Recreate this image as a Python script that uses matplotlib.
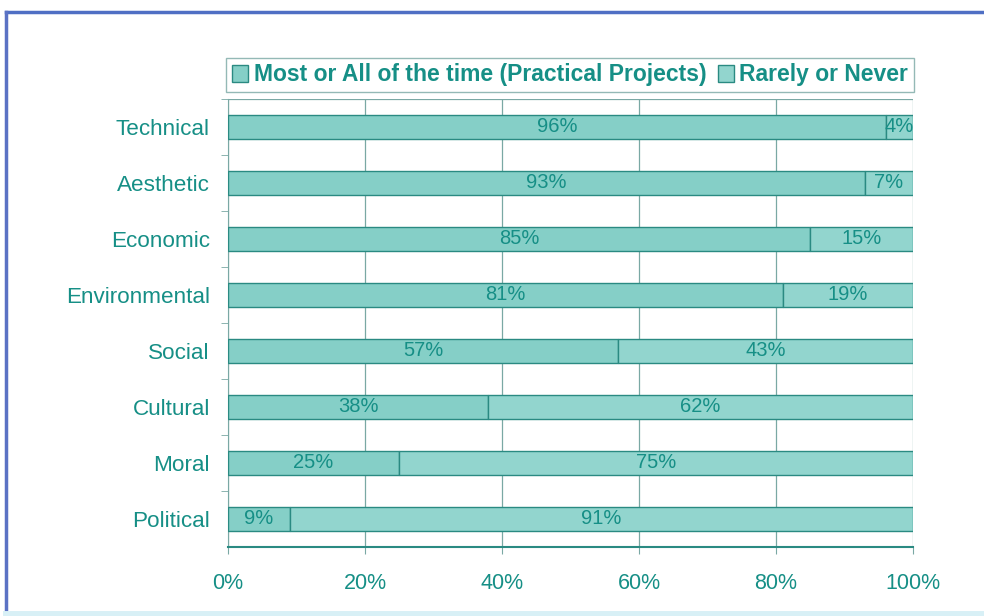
import matplotlib.pyplot as plt
from matplotlib.lines import Line2D
from matplotlib.patches import Patch

categories = ["Technical", "Aesthetic", "Economic", "Environmental",
              "Social", "Cultural", "Moral", "Political"]
most_or_all = [96, 93, 85, 81, 57, 38, 25, 9]
rarely_never = [4, 7, 15, 19, 43, 62, 75, 91]
x_ticks = [0, 20, 40, 60, 80, 100]
x_tick_labels = ["0%", "20%", "40%", "60%", "80%", "100%"]
series_names = ["Most or All of the time (Practical Projects)", "Rarely or Never"]

TEXT = "#168f86"
EDGE = "#2a8a82"
FILL_A = "#85cfc7"
FILL_B = "#92d5ce"
GRID = "#7aa8a4"

plt.rcParams["font.family"] = ["Liberation Sans", "DejaVu Sans"]

fig = plt.figure(figsize=(9.84, 6.16), dpi=100)
ax = fig.add_axes([228 / 984, 1 - 547 / 616, 685 / 984, 448 / 616])

y = list(range(len(categories)))
bar_h = 0.42
ax.barh(y, most_or_all, height=bar_h, color=FILL_A, edgecolor=EDGE, linewidth=1.0, zorder=3)
ax.barh(y, rarely_never, left=most_or_all, height=bar_h, color=FILL_B,
        edgecolor=EDGE, linewidth=1.0, zorder=3)

for yi, a, b in zip(y, most_or_all, rarely_never):
    ax.text(a / 2, yi, f"{a}%", ha="center", va="center", color=TEXT, fontsize=14.5, zorder=4)
    ax.text(a + b / 2, yi, f"{b}%", ha="center", va="center", color=TEXT, fontsize=14.5, zorder=4)

ax.set_xlim(0, 100)
ax.set_ylim(len(categories) - 0.5, -0.5)
ax.set_xticks(x_ticks)
ax.set_xticklabels(x_tick_labels, color=TEXT, fontsize=15.5)
ax.set_yticks(y)
ax.set_yticklabels(categories, color=TEXT, fontsize=16.2)
ax.tick_params(axis="y", length=0, pad=13)
ax.tick_params(axis="x", length=5, color=GRID, pad=14)
ax.set_yticks([i + 0.5 for i in range(-1, len(categories) - 1)], minor=True)
ax.tick_params(axis="y", which="minor", length=5, color=GRID)

ax.grid(axis="x", color=GRID, linewidth=0.9, zorder=0)
for side in ("top", "right"):
    ax.spines[side].set_visible(False)
ax.spines["left"].set_color(GRID)
ax.spines["left"].set_linewidth(0.8)
ax.spines["bottom"].set_color(EDGE)
ax.spines["bottom"].set_linewidth(1.5)
ax.axhline(-0.5, color=GRID, linewidth=0.9, zorder=1)

handles = [Patch(facecolor=FILL_A, edgecolor=EDGE), Patch(facecolor=FILL_B, edgecolor=EDGE)]
leg = fig.legend(handles, series_names, loc="center", ncol=2,
                 bbox_to_anchor=(570 / 984, 1 - 75 / 616),
                 frameon=True, fancybox=False, edgecolor=GRID,
                 handlelength=0.7, handleheight=0.8, handletextpad=0.25,
                 columnspacing=0.5, borderpad=0.25, borderaxespad=0,
                 prop={"weight": "bold", "size": 16.5})
for t in leg.get_texts():
    t.set_color(TEXT)

# Outer frame of the figure
fig.add_artist(Line2D([6 / 984, 1.0], [1 - 12 / 616, 1 - 12 / 616],
                      transform=fig.transFigure, color="#4f6fc4", linewidth=2.5))
fig.add_artist(Line2D([6 / 984, 6 / 984], [1 - 12 / 616, 0.0],
                      transform=fig.transFigure, color="#5b72c4", linewidth=2.5))
fig.add_artist(Line2D([6 / 984, 1.0], [2 / 616, 2 / 616],
                      transform=fig.transFigure, color="#d8f0f6", linewidth=5))

fig.savefig("out.png", dpi=100)
